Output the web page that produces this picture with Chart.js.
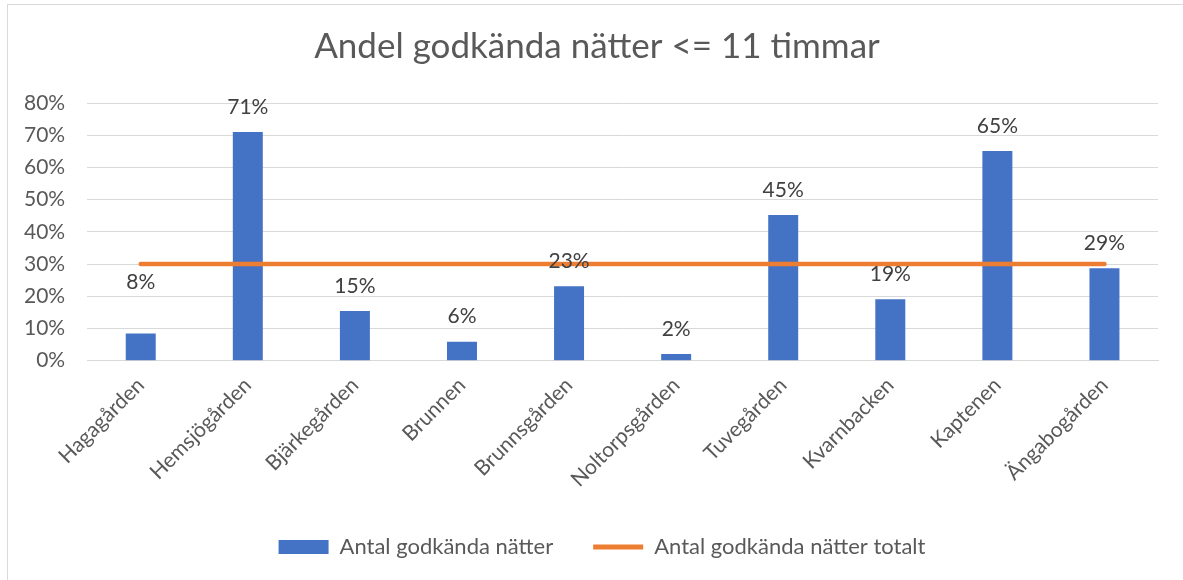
<!DOCTYPE html>
<html>
<head>
<meta charset="utf-8">
<script src="https://cdn.jsdelivr.net/npm/chart.js@4/dist/chart.umd.min.js"></script>
<style>
  html, body { margin: 0; padding: 0; background: #fff; }
  #wrap { position: relative; width: 1183px; height: 580px; overflow: hidden; }
  #ram { position: absolute; left: 7px; top: 4px; width: 1200px; height: 600px; border: 1px solid #d9d9d9; box-sizing: border-box; }
  #c { position: absolute; left: 0; top: 0; }
</style>
</head>
<body>
<div id="wrap">
  <div id="ram"></div>
  <canvas id="c" width="1183" height="580"></canvas>
</div>
<script>
// data
const boenden = ['Hagagården', 'Hemsjögården', 'Bjärkegården', 'Brunnen', 'Brunnsgården',
                 'Noltorpsgården', 'Tuvegården', 'Kvarnbacken', 'Kaptenen', 'Ängabogården'];
const andelGodkanda = [0.084, 0.71, 0.154, 0.059, 0.231, 0.021, 0.452, 0.191, 0.651, 0.287];
const totalt = [0.30, 0.30, 0.30, 0.30, 0.30, 0.30, 0.30, 0.30, 0.30, 0.30];
const etiketter = ['8%', '71%', '15%', '6%', '23%', '2%', '45%', '19%', '65%', '29%'];
const yTicks = [0, 0.1, 0.2, 0.3, 0.4, 0.5, 0.6, 0.7, 0.8];

const textFarg = '#595959';
const fontNamn = 'Lato, "Open Sans", sans-serif';

// etiketter ovanför staplarna (ritas sist, över linjen)
const etikettPlugin = {
  id: 'etiketter',
  afterLayout(chart) {
    // titel och förklaring ligger lite till höger om mitten i originalet
    chart.titleBlock.left += 17;
    chart.titleBlock.right += 17;
    chart.legend.left += 22;
    chart.legend.right += 22;
  },
  afterDraw(chart) {
    const ctx = chart.ctx;
    const meta = chart.getDatasetMeta(0);
    ctx.save();
    ctx.font = '21px ' + fontNamn;
    ctx.fillStyle = '#404040';
    ctx.textAlign = 'center';
    ctx.textBaseline = 'middle';
    meta.data.forEach((bar, i) => {
      let extra = i === 0 ? 26 : 0;  // 8% sitter högre upp i originalet
      ctx.fillText(etiketter[i], bar.x, bar.y - 25 - extra);
    });
    ctx.restore();
  }
};

const ctx = document.getElementById('c').getContext('2d');
const chart = new Chart(ctx, {
  data: {
    labels: boenden,
    datasets: [
      {
        type: 'bar',
        label: 'Antal godkända nätter',
        data: andelGodkanda,
        backgroundColor: '#4472C4',
        borderWidth: 0,
        barPercentage: 0.28,
        categoryPercentage: 1.0,
        order: 2,
        pointStyle: 'rect'
      },
      {
        type: 'line',
        label: 'Antal godkända nätter totalt',
        data: totalt,
        borderColor: '#ED7D31',
        backgroundColor: '#ED7D31',
        borderWidth: 4.5,
        borderCapStyle: 'round',
        pointRadius: 0,
        order: 1,
        pointStyle: 'line'
      }
    ]
  },
  plugins: [etikettPlugin],
  options: {
    responsive: false,
    animation: false,
    layout: { padding: { left: 2, right: 25, top: 14, bottom: 12 } },
    plugins: {
      title: {
        display: true,
        text: 'Andel godkända nätter <= 11 timmar',
        color: textFarg,
        font: { family: fontNamn, size: 35, weight: 'normal' },
        padding: { top: 12, bottom: 35 }
      },
      legend: {
        position: 'bottom',
        labels: {
          color: textFarg,
          font: { family: fontNamn, size: 22 },
          usePointStyle: true,
          pointStyleWidth: 50,
          boxWidth: 50,
          boxHeight: 14,
          padding: 40,
          generateLabels(chart) {
            return chart.data.datasets.map((ds, i) => ({
              text: ds.label,
              fillStyle: ds.backgroundColor,
              strokeStyle: ds.type === 'line' ? ds.borderColor : ds.backgroundColor,
              lineWidth: ds.type === 'line' ? 5 : 0,
              pointStyle: ds.pointStyle,
              fontColor: textFarg,
              datasetIndex: i,
              hidden: false
            }));
          }
        }
      },
      tooltip: { enabled: false }
    },
    scales: {
      x: {
        grid: { display: false },
        border: { color: '#d9d9d9', width: 1 },
        ticks: {
          color: textFarg,
          font: { family: fontNamn, size: 21 },
          minRotation: 45,
          maxRotation: 45,
          padding: 4
        }
      },
      y: {
        min: 0,
        max: 0.8,
        afterBuildTicks(axis) {
          axis.ticks = yTicks.map(v => ({ value: v }));
        },
        grid: { color: '#d9d9d9', lineWidth: 1, drawTicks: false },
        border: { display: false },
        ticks: {
          color: textFarg,
          font: { family: fontNamn, size: 21 },
          padding: 22,
          callback: v => Math.round(v * 100) + '%'
        }
      }
    }
  }
});
</script>
</body>
</html>
